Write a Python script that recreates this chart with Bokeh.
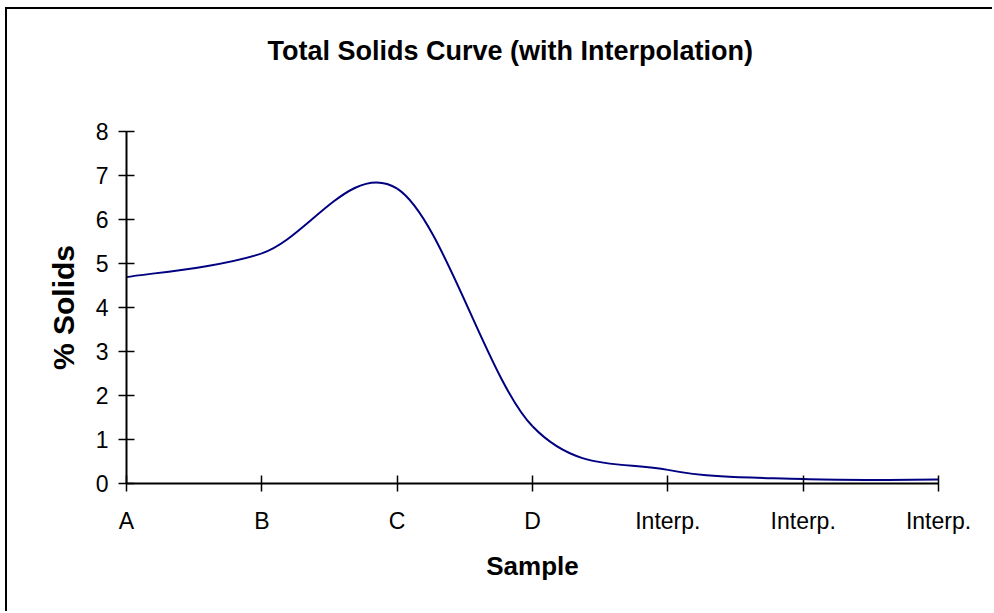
from bokeh.plotting import figure
from bokeh.models import Range1d, FixedTicker, ColumnDataSource, Title
from bokeh.embed import file_html
from bokeh.resources import INLINE

# ---- data ----
categories = ["A", "B", "C", "D", "Interp.", "Interp.", "Interp."]
solids = [4.69, 5.23, 6.70, 1.30, 0.31, 0.10, 0.09]
y_ticks = [0, 1, 2, 3, 4, 5, 6, 7, 8]

title_text = "Total Solids Curve (with Interpolation)"
x_title = "Sample"
y_title = "% Solids"

# ---- smoothed line (Excel-like smoothing) as cubic Bezier segments built from the data ----
n = len(solids)
xs = list(range(n))
ext_y = [solids[0]] + solids + [solids[-1]]
ext_x = [xs[0]] + xs + [xs[-1]]
seg = dict(x0=[], y0=[], x1=[], y1=[], cx0=[], cy0=[], cx1=[], cy1=[])
for i in range(n - 1):
    p0x, p0y = ext_x[i], ext_y[i]
    p1x, p1y = ext_x[i + 1], ext_y[i + 1]
    p2x, p2y = ext_x[i + 2], ext_y[i + 2]
    p3x, p3y = ext_x[i + 3], ext_y[i + 3]
    seg["x0"].append(p1x); seg["y0"].append(p1y)
    seg["x1"].append(p2x); seg["y1"].append(p2y)
    seg["cx0"].append(p1x + (p2x - p0x) / 6.0); seg["cy0"].append(p1y + (p2y - p0y) / 6.0)
    seg["cx1"].append(p2x - (p3x - p1x) / 6.0); seg["cy1"].append(p2y - (p3y - p1y) / 6.0)
src = ColumnDataSource(seg)

FONT = "Liberation Sans"
W, H = 987, 604
p = figure(width=W, height=H, output_backend="svg", toolbar_location=None,
           x_range=Range1d(0, n - 1), y_range=Range1d(0, 8),
           min_border_left=119, min_border_right=W - 931, min_border_top=122, min_border_bottom=H - 474,
           styles={"margin-left": "7px", "margin-top": "9px",
                   "box-shadow": "-2px -2px 0px 0px black"})
p.xgrid.visible = False
p.ygrid.visible = False
p.outline_line_color = None
p.background_fill_color = "white"
p.border_fill_color = "white"

# the plot title (laid out outermost) and a blank spacer between it and the frame
p.title = Title(text=title_text, align="left", text_font=FONT, text_font_style="bold",
                text_font_size="27px", text_color="black", standoff=10, offset=141)
p.add_layout(Title(text=" ", text_color="white", text_font=FONT, text_font_style="bold",
                   text_font_size="27px", standoff=29), "above")

p.bezier(x0="x0", y0="y0", x1="x1", y1="y1", cx0="cx0", cy0="cy0", cx1="cx1", cy1="cy1",
         source=src, line_color="#000080", line_width=2)

for ax in (p.xaxis[0], p.yaxis[0]):
    ax.axis_line_color = "black"
    ax.axis_line_width = 2
    ax.major_tick_line_color = "black"
    ax.major_tick_line_width = 1.5
    ax.major_tick_in = 8
    ax.major_tick_out = 8
    ax.minor_tick_line_color = None
    ax.major_label_text_font = FONT
    ax.major_label_text_font_size = "23px"
    ax.major_label_text_color = "black"
    ax.axis_label_text_font = FONT
    ax.axis_label_text_font_style = "bold"
    ax.axis_label_text_color = "black"

p.xaxis.ticker = FixedTicker(ticks=xs)
p.xaxis.major_label_overrides = {i: c for i, c in enumerate(categories)}
p.xaxis.major_label_standoff = 16
p.xaxis.axis_label = x_title
p.xaxis.axis_label_standoff = 14
p.xaxis.axis_label_text_font_size = "26px"

p.yaxis.ticker = FixedTicker(ticks=y_ticks)
p.yaxis.major_label_standoff = 10
p.yaxis.axis_label = y_title
p.yaxis.axis_label_standoff = 13
p.yaxis.axis_label_text_font_size = "30px"

open("out.html", "w").write(file_html(p, INLINE))
